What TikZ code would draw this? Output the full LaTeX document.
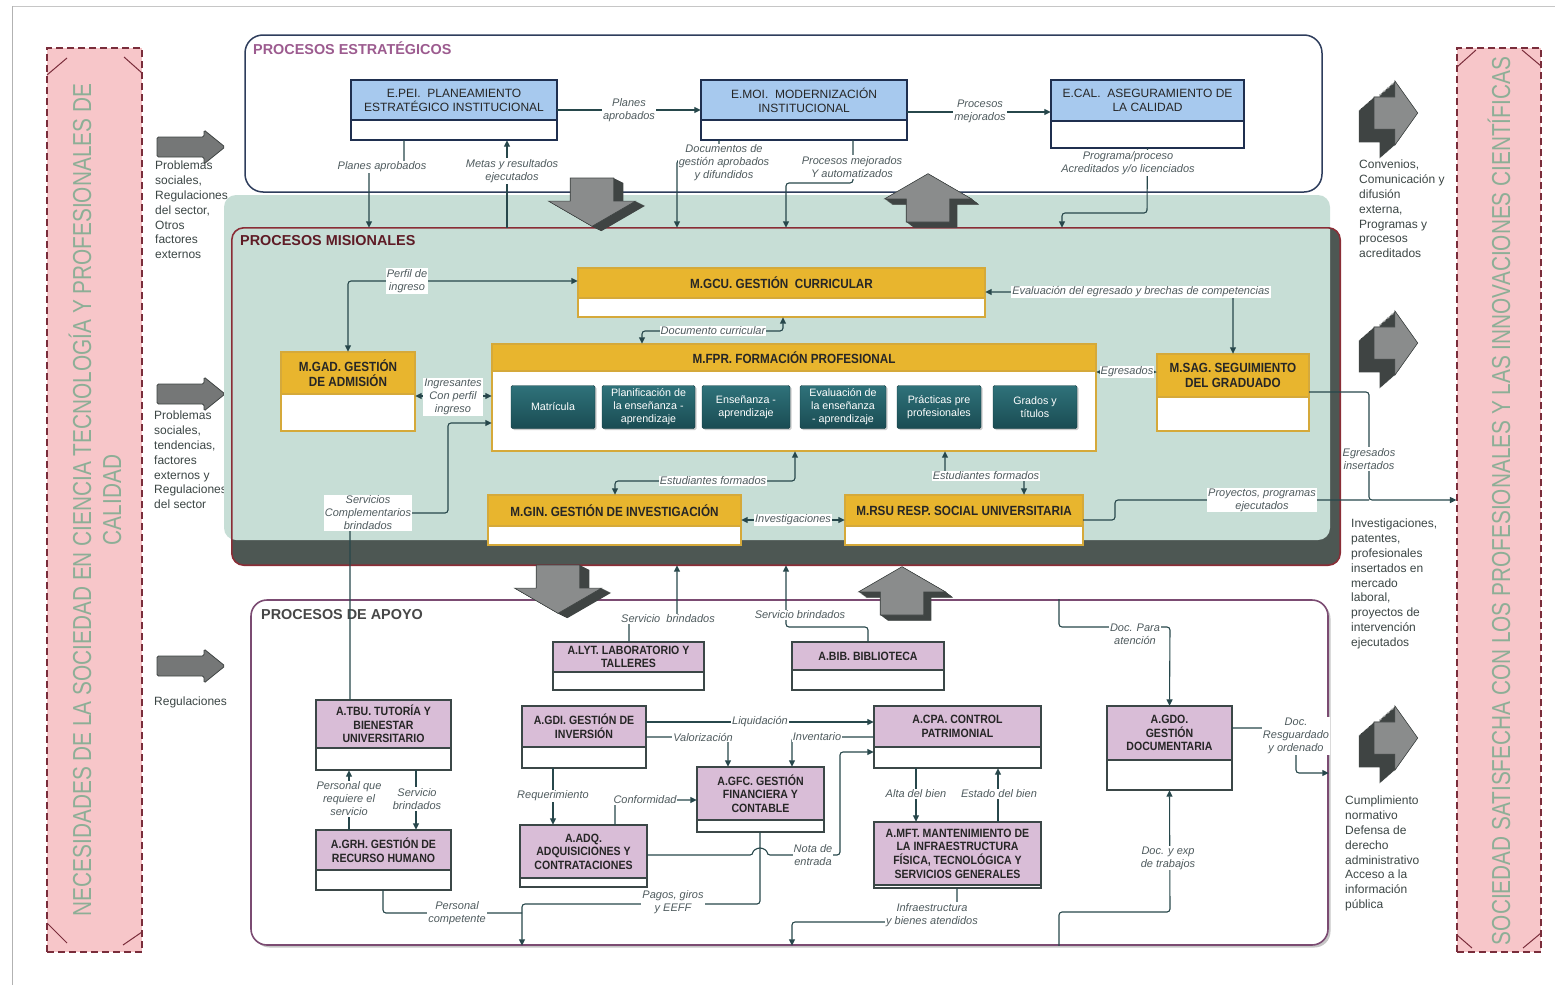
\documentclass[tikz,border=0pt]{standalone}
\usepackage{fontspec}
\setmainfont{Liberation Sans}
\newfontfamily\barfont{Liberation Sans}[FakeStretch=0.8]
\newfontfamily\condfont{Liberation Sans}[FakeStretch=0.88]
\usetikzlibrary{arrows.meta,fit,shadows}

\definecolor{barpink}{HTML}{F7C6C9}
\definecolor{barline}{HTML}{7A2D3B}
\definecolor{bartxt}{HTML}{8DAE96}
\definecolor{stratnavy}{HTML}{2E3D5C}
\definecolor{strattitle}{HTML}{9C5B8F}
\definecolor{ehd}{HTML}{A7C9EE}
\definecolor{enavy}{HTML}{1F2F4F}
\definecolor{mint}{HTML}{C7DED6}
\definecolor{misdark}{HTML}{4D5753}
\definecolor{misred}{HTML}{8A2D36}
\definecolor{mistitle}{HTML}{5E1B25}
\definecolor{gold}{HTML}{E8B52E}
\definecolor{goldln}{HTML}{D5A93A}
\definecolor{stagetop}{HTML}{2F727A}
\definecolor{stagebot}{HTML}{1A4C53}
\definecolor{apopurple}{HTML}{7B4B72}
\definecolor{apink}{HTML}{D9BDD7}
\definecolor{agray}{HTML}{3B4747}
\definecolor{linkc}{HTML}{27474B}
\definecolor{lblc}{HTML}{4F5B5E}
\definecolor{sidec}{HTML}{3B4544}
\definecolor{arrowface}{HTML}{8A8C8C}
\definecolor{arrowdark}{HTML}{3F4443}

% box with coloured header and empty lower part
\newcommand{\procbox}[8]{%
  \coordinate (#1-a) at (#3,#4);
  \coordinate (#1-b) at (#5,#6);
  \node[#2box, fit=(#1-a)(#1-b)] (#1) {};
  \fill[#2head] (#3,#4) rectangle (#5,#7);
  \draw[#2edge] (#3,#7) -- (#5,#7);
  \draw[#2edge] (#3,#4) rectangle (#5,#6);
  \node[#2text] (#1-t) at ({(#3+#5)/2},{(#4+#7)/2}) {#8};
}
% solid block arrow with depth: x, y, angle, depth x, depth y, length scale, width scale
\newcommand{\blockthreed}[7]{%
  \foreach \k in {0,0.05,...,1.0}{
    \fill[arrowdark, shift={({#1+\k*#4},{#2+\k*#5})}, rotate=#3, xscale=#6, yscale=#7]
      (0,-15) -- (22,-15) -- (22,-30) -- (46,0) -- (22,30) -- (22,15) -- (0,15) -- cycle;
  }
  \filldraw[fill=arrowface, draw=arrowdark, line width=0.6pt, shift={(#1,#2)}, rotate=#3, xscale=#6, yscale=#7]
    (0,-15) -- (22,-15) -- (22,-30) -- (46,0) -- (22,30) -- (22,15) -- (0,15) -- cycle;
}
\newcommand{\flatarrow}[2]{%
  \filldraw[flatarw, shift={(#1,#2)}]
    (0,-10) -- (47,-10) -- (47,-17) -- (68,0) -- (47,17) -- (47,10) -- (0,10) -- cycle;
}

\begin{document}
\begin{tikzpicture}[x=1pt,y=-1pt]

\tikzset{
  >={Triangle[length=6.5pt,width=6pt]},
  lnk/.style = {draw=linkc, line width=1.1pt, rounded corners=3pt},
  lbl/.style = {fill=white, inner sep=1pt, text=lblc, align=center,
                font=\fontsize{11}{13}\selectfont\itshape},
  sidetxt/.style = {anchor=north west, align=left, inner sep=0pt, text=sidec,
                font=\fontsize{12}{14.8}\selectfont},
  ptitle/.style = {anchor=west, inner sep=0pt, font=\bfseries\fontsize{14.4}{17}\selectfont},
  pinkbar/.style = {fill=barpink, draw=barline, line width=1.2pt,
                dash pattern=on 7pt off 4pt, inner sep=0pt},
  bartext/.style = {rotate=90, align=center, text=bartxt, inner sep=0pt,
                font=\barfont\fontsize{26}{30}\selectfont},
  tick/.style = {draw=barline, line width=1pt},
  flatarw/.style = {fill=arrowface!85!black, draw=arrowdark, line width=0.8pt, rounded corners=1.5pt},
  ebox/.style = {fill=white, inner sep=0pt},
  ehead/.style = {fill=ehd},
  eedge/.style = {draw=enavy, line width=1.8pt},
  etext/.style = {font=\fontsize{12}{14}\selectfont, align=center, text=black!85, inner sep=0pt},
  mbox/.style = {fill=white, inner sep=0pt},
  mhead/.style = {fill=gold},
  medge/.style = {draw=goldln, line width=1.5pt},
  mtext/.style = {font=\condfont\bfseries\fontsize{13.3}{15}\selectfont, align=center,
                text=black!85, inner sep=0pt},
  abox/.style = {fill=white, inner sep=0pt},
  ahead/.style = {fill=apink},
  aedge/.style = {draw=agray, line width=1.4pt},
  atext/.style = {font=\condfont\bfseries\fontsize{12}{13.6}\selectfont, align=center,
                text=black!85, inner sep=0pt},
  stage/.style = {rounded corners=1.5pt, top color=stagetop, bottom color=stagebot,
                draw=stagebot!80!black, text=white, align=center, inner sep=1pt,
                minimum height=43pt, font=\fontsize{10.7}{13}\selectfont,
                drop shadow={opacity=0.4, shadow xshift=1.5pt, shadow yshift=-1.5pt}}
}

\useasboundingbox (0,0) rectangle (1555,985);
\draw[gray!45] (12,6) -- (1555,6);
\draw[gray!60] (12,6) -- (12,985);

% side bars
\node[pinkbar, minimum width=95pt, minimum height=904pt] (leftbar) at (94.5,500) {};
\node[pinkbar, minimum width=84pt, minimum height=904pt] (rightbar) at (1499,500) {};
\draw[tick] (47,75) -- (67,58);   \draw[tick] (124,57) -- (142,73);
\draw[tick] (47,923) -- (67,943); \draw[tick] (123,945) -- (142,932);
\draw[tick] (1457,67) -- (1476,50); \draw[tick] (1522,50) -- (1541,66);
\draw[tick] (1457,935) -- (1472,948); \draw[tick] (1523,948) -- (1541,933);
\node[bartext] (lefttxt) at (95,500)
  {NECESIDADES DE LA SOCIEDAD EN CIENCIA TECNOLOGÍA Y PROFESIONALES DE\\CALIDAD};
\node[bartext] (righttxt) at (1499,501)
  {SOCIEDAD SATISFECHA CON LOS PROFESIONALES Y LAS INNOVACIONES CIENTÍFICAS};

% inputs and outputs
\flatarrow{157}{147}
\flatarrow{157}{394}
\flatarrow{157}{666}
\node[sidetxt] (in1) at (155,161) {Problemas\\sociales,\\Regulaciones\\del sector,\\Otros\\factores\\externos};
\node[sidetxt] (in2) at (154,411) {Problemas\\sociales,\\tendencias,\\factores\\externos y\\Regulaciones\\del sector};
\node[sidetxt] (in3) at (154,697) {Regulaciones};
\node[sidetxt] (out1) at (1359,160) {Convenios,\\Comunicación y\\difusión\\externa,\\Programas y\\procesos\\acreditados};
\node[sidetxt] (out2) at (1351,519) {Investigaciones,\\patentes,\\profesionales\\insertados en\\mercado\\laboral,\\proyectos de\\intervención\\ejecutados};
\node[sidetxt] (out3) at (1345,796) {Cumplimiento\\normativo\\Defensa de\\derecho\\administrativo\\Acceso a la\\información\\pública};

% panels
\node[draw=stratnavy, line width=1.5pt, fill=white, rounded corners=18pt,
      minimum width=1077pt, minimum height=157pt] (strat) at (783.5,113.5) {};
\node[fill=misdark, rounded corners=12pt, inner sep=0pt,
      minimum width=1108pt, minimum height=337pt] (mis) at (786,396.5) {};
\fill[mint, rounded corners=12pt] (224,195) rectangle (1330,540);
\draw[misred, line width=1.6pt, rounded corners=12pt] (mis.north west) rectangle (mis.south east);
\node[draw=apopurple, line width=1.6pt, fill=white, rounded corners=16pt,
      minimum width=1077pt, minimum height=345pt,
      drop shadow={opacity=0.45, shadow xshift=2.5pt, shadow yshift=-2.5pt}] (apo) at (789.5,772.5) {};
\node[ptitle, text=strattitle] (tstrat) at (253,48) {PROCESOS ESTRATÉGICOS};
\node[ptitle, text=mistitle] (tmis) at (240,241) {PROCESOS MISIONALES};
\node[ptitle, text=black!72] (tapo) at (261,615) {PROCESOS DE APOYO};

% strategic processes
\procbox{pei}{e}{351}{80}{557}{140}{120}{E.PEI.\ \ PLANEAMIENTO\\ESTRATÉGICO INSTITUCIONAL}
\procbox{moi}{e}{701}{80}{907}{140}{120}{E.MOI.\ \ MODERNIZACIÓN\\INSTITUCIONAL}
\procbox{cal}{e}{1051}{80}{1244}{148}{121}{E.CAL.\ \ ASEGURAMIENTO DE\\LA CALIDAD}

% mission processes
\procbox{gcu}{m}{578}{268}{985}{317}{298}{M.GCU. GESTIÓN\ \ CURRICULAR}
\procbox{gad}{m}{281}{352}{415}{431}{394}{M.GAD. GESTIÓN\\DE ADMISIÓN}
\procbox{fpr}{m}{492}{344}{1096}{451}{371}{M.FPR. FORMACIÓN PROFESIONAL}
\procbox{sag}{m}{1157}{354}{1309}{431}{397}{M.SAG. SEGUIMIENTO\\DEL GRADUADO}
\procbox{gin}{m}{488}{495}{741}{545}{526}{M.GIN. GESTIÓN DE INVESTIGACIÓN}
\procbox{rsu}{m}{845}{495}{1083}{545}{526}{M.RSU RESP. SOCIAL UNIVERSITARIA}
\foreach \nm/\xa/\xb/\txt in {mat/511/595/{Matrícula},
    pla/602/695/{Planificación de\\la enseñanza -\\aprendizaje},
    ens/702/790/{Enseñanza -\\aprendizaje},
    eva/800/886/{Evaluación de\\la enseñanza\\- aprendizaje},
    pra/897/981/{Prácticas pre\\profesionales},
    gra/993/1077/{Grados y\\títulos}}
  \node[stage, minimum width={(\xb-\xa)*1pt}] (\nm) at ({(\xa+\xb)/2},407) {\txt};

% support processes
\procbox{lyt}{a}{553}{642}{704}{690}{672}{A.LYT. LABORATORIO Y\\TALLERES}
\procbox{bib}{a}{792}{642}{944}{690}{670}{A.BIB. BIBLIOTECA}
\procbox{tbu}{a}{316}{700}{451}{770}{748}{A.TBU. TUTORÍA Y\\BIENESTAR\\UNIVERSITARIO}
\procbox{gdi}{a}{522}{706}{646}{768}{747}{A.GDI. GESTIÓN DE\\INVERSIÓN}
\procbox{cpa}{a}{874}{706}{1041}{768}{747}{A.CPA. CONTROL\\PATRIMONIAL}
\procbox{gdo}{a}{1107}{706}{1232}{790}{760}{A.GDO.\\GESTIÓN\\DOCUMENTARIA}
\procbox{gfc}{a}{697}{767}{824}{832}{820}{A.GFC. GESTIÓN\\FINANCIERA Y\\CONTABLE}
\procbox{grh}{a}{316}{830}{451}{890}{870}{A.GRH. GESTIÓN DE\\RECURSO HUMANO}
\procbox{adq}{a}{520}{825}{647}{887}{878}{A.ADQ.\\ADQUISICIONES Y\\CONTRATACIONES}
\procbox{mft}{a}{874}{822}{1041}{888}{885}{A.MFT. MANTENIMIENTO DE\\LA INFRAESTRUCTURA\\FÍSICA, TECNOLÓGICA Y\\SERVICIOS GENERALES}

% strategic links
\draw[lnk,->] (pei.east |- 0,110) -- (moi.west |- 0,110);
\node[lbl] (l-pa1) at (629,110) {Planes\\aprobados};
\draw[lnk,->] (moi.east |- 0,112) -- (cal.west |- 0,112);
\node[lbl] (l-pm) at (980,111) {Procesos\\mejorados};
\draw[lnk,->] (pei.south -| 404,0) |- (369,167) -- (mis.north -| 369,0);
\node[lbl] (l-pa2) at (382,167) {Planes aprobados};
\draw[lnk,->] (mis.north -| 507,0) -- (pei.south -| 507,0);
\node[lbl] (l-mr) at (512,171) {Metas y resultados\\ejecutados};
\draw[lnk,->] (moi.south -| 719,0) |- (677,160) -- (mis.north -| 677,0);
\node[lbl] (l-dg) at (724,163) {Documentos de\\gestión aprobados\\y difundidos};
\draw[lnk,->] (moi.south -| 853,0) -- (853,183) -| (mis.north -| 786,0);
\node[lbl] (l-pma) at (852,167) {Procesos mejorados\\Y automatizados};
\draw[lnk,->] (cal.south) -- (1147,213) -| (mis.north -| 1062,0);
\node[lbl] (l-pro) at (1128,163) {Programa/proceso\\Acreditados y/o licenciados};

% mission links
\draw[lnk,<->] (gad.north) |- (gcu.west |- 0,281);
\node[lbl] (l-pi) at (407,281) {Perfil de\\ingreso};
\draw[lnk,<->] (gcu.east |- 0,292) -| (sag.north);
\node[lbl] (l-ev) at (1141,292) {Evaluación del egresado y brechas de competencias};
\draw[lnk,<->] (fpr.north -| 642,0) |- (783,331) -- (gcu.south -| 783,0);
\node[lbl] (l-dc) at (713,331) {Documento curricular};
\draw[lnk,<->] (gad.east |- 0,396) -- (fpr.west |- 0,396);
\node[lbl] (l-ing) at (453,397) {Ingresantes\\Con perfil\\ingreso};
\draw[lnk,<->] (fpr.east |- 0,372) -- (sag.west |- 0,372);
\node[lbl] (l-egr) at (1127,372) {Egresados};
\draw[lnk,<->] (gin.north -| 615,0) |- (795,481) -- (fpr.south -| 795,0);
\node[lbl] (l-ef1) at (713,481) {Estudiantes formados};
\draw[lnk,<->] (fpr.south -| 945,0) |- (1024,476) -- (rsu.north -| 1024,0);
\node[lbl] (l-ef2) at (986,476) {Estudiantes formados};
\draw[lnk,<->] (gin.east |- 0,520) -- (rsu.west |- 0,520);
\node[lbl] (l-inv) at (793,520) {Investigaciones};
\draw[lnk,->] (sag.east |- 0,392) -| (1369,500) -- (rightbar.west |- 0,500);
\draw[lnk] (rsu.east |- 0,520) -| (1115,500) -- (1369,500);
\node[lbl] (l-ei) at (1369,459) {Egresados\\insertados};
\node[lbl] (l-pp) at (1262,500) {Proyectos, programas\\ejecutados};
\draw[lnk,->] (tbu.north -| 350,0) -- (350,513) -| (448,423) -- (fpr.west |- 0,423);
\node[lbl] (l-sc) at (368,513) {Servicios\\Complementarios\\brindados};

% support links
\draw[lnk,->] (lyt.north -| 629,0) |- (677,619) -- (mis.south -| 677,0);
\node[lbl] (l-sb1) at (668,619) {Servicio\ \ brindados};
\draw[lnk,->] (bib.north -| 868,0) |- (786,627) -- (mis.south -| 786,0);
\node[lbl] (l-sb2) at (800,615) {Servicio brindados};
\draw[lnk,->] (grh.north -| 349,0) -- (tbu.south -| 349,0);
\node[lbl] (l-pq) at (349,799) {Personal que\\requiere el\\servicio};
\draw[lnk,->] (tbu.south -| 416,0) -- (grh.north -| 416,0);
\node[lbl] (l-sb3) at (417,799) {Servicio\\brindados};
\draw[lnk] (grh.south -| 383,0) |- (522,913);
\draw[lnk,->] (gfc.south -| 760,0) |- (522,904) -- (apo.south -| 522,0);
\node[lbl] (l-pc) at (457,913) {Personal\\competente};
\node[lbl] (l-pg) at (673,902) {Pagos, giros\\y EEFF};
\draw[lnk,->] (gdi.east |- 0,722) -- (cpa.west |- 0,722);
\node[lbl] (l-liq) at (760,722) {Liquidación};
\draw[lnk,->] (gdi.east |- 0,737) -| (gfc.north -| 728,0);
\node[lbl] (l-val) at (703,737) {Valorización};
\draw[lnk,->] (cpa.west |- 0,737) -| (gfc.north -| 792,0);
\node[lbl] (l-invt) at (817,737) {Inventario};
\draw[lnk,->] (gdi.south -| 553,0) -- (adq.north -| 553,0);
\node[lbl] (l-req) at (553,796) {Requerimiento};
\draw[lnk,->] (adq.north -| 615,0) |- (gfc.west |- 0,800);
\node[lbl] (l-conf) at (645,800) {Conformidad};
\draw[lnk,->] (adq.east |- 0,855) -- (753,855) arc[start angle=180, end angle=0, radius=7pt]
  -- (840,855) |- (cpa.west |- 0,752);
\node[lbl] (l-nota) at (813,855) {Nota de\\entrada};
\draw[lnk,->] (cpa.south -| 916,0) -- (mft.north -| 916,0);
\node[lbl] (l-alta) at (916,794) {Alta del bien};
\draw[lnk,->] (mft.north -| 998,0) -- (cpa.south -| 998,0);
\node[lbl] (l-est) at (999,794) {Estado del bien};
\draw[lnk,->] (mft.south -| 957,0) |- (792,922) -- (apo.south -| 792,0);
\node[lbl] (l-infra) at (932,915) {Infraestructura\\y bienes atendidos};
\draw[lnk,->] (apo.north -| 1059,0) |- (1170,627) -- (gdo.north);
\node[lbl] (l-dpa) at (1135,634) {Doc. Para\\atención};
\draw[lnk,->] (gdo.east |- 0,728) -- (1296,728) -- (1296,773) -- (apo.east |- 0,773);
\node[lbl] (l-dres) at (1296,736) {Doc.\\Resguardado\\y ordenado};
\draw[lnk,->] (apo.south -| 1059,0) |- (1170,912) -- (gdo.south);
\node[lbl] (l-dexp) at (1168,858) {Doc. y exp\\de trabajos};

% block arrows between the levels and to the outputs
\blockthreed{592}{178}{-90}{10}{5}{1.05}{1.45}
\blockthreed{928}{222}{90}{8}{6}{1.05}{1.45}
\blockthreed{558}{565}{-90}{10}{5}{1.05}{1.45}
\blockthreed{902}{615}{90}{8}{6}{1.05}{1.45}
\blockthreed{1374}{113}{0}{-16}{14}{0.95}{1.07}
\blockthreed{1374}{343}{0}{-16}{14}{0.95}{1.07}
\blockthreed{1374}{738}{0}{-16}{14}{0.95}{1.07}

\end{tikzpicture}
\end{document}
